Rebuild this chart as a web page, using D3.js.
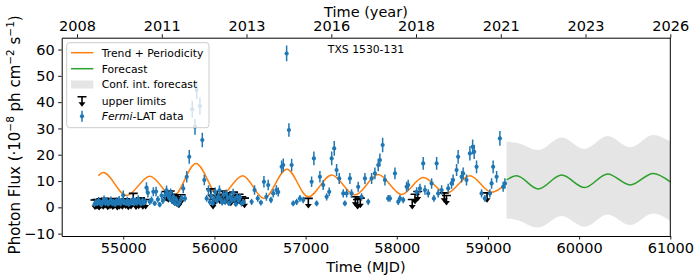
<!DOCTYPE html>
<html>
<head>
<meta charset="utf-8">
<script src="https://cdn.jsdelivr.net/npm/d3@7/dist/d3.min.js"></script>
<style>
body { margin: 0; background: #fff; }
svg text { font-family: "DejaVu Sans", sans-serif; fill: #000; }
</style>
</head>
<body>
<svg id="chart" width="699" height="278"></svg>
<script>

// Fermi-LAT detections (MJD, flux, 1 sigma error), flux in 1e-8 ph cm-2 s-1.

const detMjd = [
    54685,54700,54715,54730,54745,54760,54775,54790,54805,54820,54835,54850,54865,54880,54895,54910,54925,54940,54955,54970,
    54985,55000,55015,55030,55045,55060,55075,55090,55105,55120,55135,55150,55165,55180,55195,55210,55225,55240,
    55255,55270,55290,55310,55330,55345,55360,55380,55400,55420,55435,
    55460,55475,55490,55505,55520,55535,55550,55565,55580,55600,55620,55640,
    55658,55677,55696,55724,55757,55787,55805,55841,55867,55889,
    55915,55935,55950,55965,55980,55995,56010,56025,56040,56055,56070,56085,56100,56115,56130,56145,56160,56175,56190,56205,
    56220,56235,56250,56265,56280,56300,56320,
    56408,56440,56475,56510,56543,56570,56590,56620,56645,56680,56700,56737,56755,56792,56817,56847,56864,
    56902,56938,56974,57066,57091,57121,57157,57193,57231,57259,
    57286,57314,57340,57369,57413,57431,57450,57486,57504,57577,
    57614,57651,57687,57724,57760,57797,57815,57845,57870,57906,
    57925,57980,58016,58035,58071,58108,58125,58218,58254,58290,
    58309,58345,58382,58407,58437,58454,58492,58564,58601,58618,
    58656,58673,58711,58728,58765,58802,58832,58849,58875,58930,
    58966,59021,59040,59057,59095,59131,59167,59186,
];

const detFlux = [
    1.2,2.0,1.5,2.5,1.8,1.0,2.2,3.0,1.6,2.4,1.3,2.0,2.7,1.5,2.1,1.1,2.5,1.9,2.8,1.4,
    2.3,4.6,2.0,1.6,2.6,1.2,2.2,1.8,2.9,1.5,2.4,1.7,3.1,2.0,1.4,2.5,1.8,2.2,
    7.5,5.5,2.1,2.8,5.9,1.5,6.0,3.0,1.0,4.5,2.5,
    4.5,6.5,5.0,3.5,5.5,2.5,4.0,1.5,3.0,1.0,2.0,3.5,
    7.2,3.4,11.6,19.2,37.3,30.6,44.6,38.5,25.6,10.4,
    3.4,6.6,2.0,4.5,1.5,3.2,5.8,2.5,4.0,6.5,3.0,1.8,4.8,2.2,5.2,3.5,1.5,4.2,2.8,5.5,
    3.0,1.2,4.0,2.5,3.8,1.5,2.0,
    2.1,6.6,3.4,1.8,9.7,4.0,8.5,2.8,5.3,6.6,5.8,15.4,16.1,58.5,29.4,16.1,1.5,
    2.1,3.4,2.8,9.7,18.6,1.5,11.6,8.5,4.0,5.9,
    18.6,22.4,14.2,11.0,5.3,1.5,5.3,11.0,5.3,7.8,
    4.0,11.0,2.1,11.0,12.9,16.1,18.0,23.7,10.4,3.4,
    3.4,12.9,2.1,3.4,2.8,7.8,8.5,5.9,7.2,16.7,
    6.6,5.3,9.1,3.4,16.7,5.3,6.6,7.2,9.1,10.4,
    14.2,19.2,11.6,12.9,10.4,20.5,23.0,21.1,15.4,5.3,
    3.4,5.3,9.1,15.4,11.6,26.2,7.8,9.1,
];

const detErr = [
    1.1,1.3,1.0,1.4,1.2,1.0,1.3,1.5,1.1,1.3,1.0,1.2,1.4,1.1,1.2,1.0,1.3,1.2,1.5,1.1,
    1.3,1.8,1.2,1.1,1.4,1.0,1.2,1.1,1.5,1.0,1.3,1.1,1.5,1.2,1.0,1.3,1.1,1.2,
    2.0,1.8,1.2,1.3,1.7,1.0,1.8,1.3,1.0,1.5,1.2,
    1.5,1.8,1.6,1.3,1.7,1.2,1.4,1.0,1.2,1.0,1.1,1.3,
    1.8,1.3,2.2,2.6,3.2,3.0,3.4,3.3,2.8,2.0,
    1.3,1.8,1.1,1.5,1.0,1.3,1.7,1.2,1.4,1.8,1.2,1.1,1.5,1.1,1.6,1.3,1.0,1.4,1.2,1.6,
    1.2,1.0,1.4,1.2,1.3,1.0,1.1,
    1.2,1.8,1.3,1.1,2.2,1.5,2.0,1.2,1.6,1.8,1.7,2.4,2.5,3.0,2.6,2.4,1.1,
    1.2,1.3,1.2,2.0,2.6,1.1,2.2,1.9,1.4,1.6,
    2.6,2.8,2.3,2.1,1.6,1.1,1.6,2.1,1.6,1.9,
    1.4,2.1,1.2,2.1,2.2,2.4,2.5,2.8,2.1,1.3,
    1.3,2.2,1.2,1.3,1.2,1.9,2.0,1.7,1.8,2.4,
    1.8,1.6,2.0,1.3,2.4,1.6,1.8,1.8,2.0,2.1,
    2.3,2.6,2.2,2.2,2.1,2.7,2.8,2.7,2.4,1.6,
    1.3,1.6,2.0,2.4,2.2,2.8,1.9,2.0,
];

const binHalf = 15; // days

// Upper limits (MJD, flux).

const ulMjd = [
    54690,54710,54735,54755,54780,54800,54830,54855,54885,54905,54935,54960,54990,55025,55055,55085,55110,55140,55170,55190,55215,55245,
    55470,55495,55515,55540,55560,55585,55610,55635,
    55960,55985,56005,56030,56060,56090,56120,56150,56180,56210,56240,56270,56300,56330,
    57030,57545,57570,57600,58170,58200,58230,58520,58545,58990,
];

const ulFlux = [
    2.8,3.0,2.6,3.2,2.9,3.4,2.7,3.1,2.8,3.3,2.6,3.0,2.9,3.2,2.7,3.0,5.3,2.8,3.1,3.6,2.9,3.0,
    6.0,5.5,6.2,5.0,4.5,4.0,3.5,4.8,
    7.0,3.0,4.5,6.0,5.0,6.2,4.8,5.5,4.2,5.8,4.5,5.0,4.0,3.5,
    3.4,4.0,3.0,3.5,3.0,5.0,6.0,5.5,4.5,5.5,
];

// Trend + periodicity model (turning points).

const trendMjd  = [54726,54781,55036,55293,55545,55798,56055,56310,56543,56795,57029,57286,57541,57797,58053,58290,58546,58802,59040,59204];
const trendFlux = [12.0, 13.2, 4.5, 11.8, 4.0, 16.7, 4.0, 12.0, 3.4, 14.5, 4.0, 12.3, 4.7, 12.5, 4.9, 11.3, 5.3, 12.0, 5.7, 9.1];

// Forecast and its confidence interval.

const forecastMjd   = [59204,59314,59551,59808,60060,60312,60560,60812,61000];
const forecastFlux  = [10.4, 12.0, 7.0, 12.3, 7.5, 12.7, 8.5, 12.9, 9.7];
const forecastUpper = [24.9, 24.6, 21.8, 26.6, 22.2, 27.1, 22.8, 27.5, 24.9];
const forecastLower = [-4.2, -4.8, -7.7, -3.3, -7.4, -2.7, -6.7, -2.3, -5.1];

// Axis ticks.

const mjdTicks   = [55000, 56000, 57000, 58000, 59000, 60000, 61000];
const fluxTicks  = [-10, 0, 10, 20, 30, 40, 50, 60];
const yearTickMjd = [54493, 55423, 56352, 57282, 58211, 59141, 60070, 61000];
const yearLabels  = ["2008", "2011", "2013", "2016", "2018", "2021", "2023", "2026"];

const legendLabels = ["Trend + Periodicity", "Forecast", "Conf. int. forecast", "upper limits", "Fermi-LAT data"];

//----------------------------------------------------------------------------//

const W = 699, H = 278;
const margin = { T: 37.7, B: 42, L: 61.7, R: 28.7 };

const BLUE = "#1f77b4", ORANGE = "#ff7f0e", GREEN = "#2ca02c";
const FS = 14.5;

const svg = d3.select("#chart");

const x = d3.scaleLinear().domain([54325, 61000]).range([margin.L, W - margin.R]);
const y = d3.scaleLinear().domain([-10.9, 64.5]).range([H - margin.B, margin.T]);

svg.append("defs").append("clipPath").attr("id", "clip")
    .append("rect")
    .attr("x", margin.L).attr("y", margin.T)
    .attr("width", W - margin.L - margin.R)
    .attr("height", H - margin.T - margin.B);

const plot = svg.append("g").attr("clip-path", "url(#clip)");

// Confidence band.

const band = forecastMjd.map((m, i) => ({ m, lo: forecastLower[i], hi: forecastUpper[i] }));

plot.append("path")
    .datum(band)
    .attr("d", d3.area().curve(d3.curveMonotoneX)
        .x(d => x(d.m)).y0(d => y(d.lo)).y1(d => y(d.hi)))
    .attr("fill", "#d3d3d3")
    .attr("fill-opacity", 0.6);

// Model lines.

const line = d3.line().curve(d3.curveMonotoneX).x(d => x(d[0])).y(d => y(d[1]));

plot.append("path")
    .datum(trendMjd.map((m, i) => [m, trendFlux[i]]))
    .attr("d", line)
    .attr("fill", "none").attr("stroke", ORANGE).attr("stroke-width", 1.5);

plot.append("path")
    .datum(forecastMjd.map((m, i) => [m, forecastFlux[i]]))
    .attr("d", line)
    .attr("fill", "none").attr("stroke", GREEN).attr("stroke-width", 1.5);

// Upper limits: cap, stem, arrow head.

function ulPath(cx, cy) {
    return `M${cx - 4.5},${cy}H${cx + 4.5}M${cx},${cy}V${cy + 6.5}`;
}
function ulHead(cx, cy) {
    return `M${cx - 3.5},${cy + 5.5}L${cx + 3.5},${cy + 5.5}L${cx},${cy + 10}Z`;
}

const uls = plot.append("g")
    .selectAll("g")
    .data(ulMjd.map((m, i) => ({ m, f: ulFlux[i] })))
    .join("g");

uls.append("path")
    .attr("d", d => ulPath(x(d.m), y(d.f)))
    .attr("stroke", "#000").attr("stroke-width", 1.6).attr("fill", "none");
uls.append("path")
    .attr("d", d => ulHead(x(d.m), y(d.f)))
    .attr("fill", "#000");

// Detections with error bars.

const dets = plot.append("g")
    .selectAll("g")
    .data(detMjd.map((m, i) => ({ m, f: detFlux[i], e: detErr[i] })))
    .join("g");

dets.append("path")
    .attr("d", d => `M${x(d.m)},${y(d.f - d.e)}V${y(d.f + d.e)}M${x(d.m - binHalf)},${y(d.f)}H${x(d.m + binHalf)}`)
    .attr("stroke", BLUE).attr("stroke-width", 1.5).attr("fill", "none");
dets.append("circle")
    .attr("cx", d => x(d.m)).attr("cy", d => y(d.f)).attr("r", 2.1)
    .attr("fill", BLUE);

//----------------------------------------------------------------------------//
//                                    AXES                                    //
//----------------------------------------------------------------------------//

function styleAxis(g) {
    g.selectAll("path").attr("stroke", "#000").attr("stroke-width", 1);
    g.selectAll("line").attr("stroke", "#000").attr("stroke-width", 0.9);
    g.selectAll("text").attr("font-size", FS).attr("font-family", "DejaVu Sans");
}

svg.append("g")
    .attr("transform", `translate(0,${H - margin.B})`)
    .call(d3.axisBottom(x).tickValues(mjdTicks).tickFormat(d3.format("d")).tickSize(3.5).tickPadding(3.5).tickSizeOuter(0))
    .call(styleAxis);

svg.append("g")
    .attr("transform", `translate(0,${margin.T})`)
    .call(d3.axisTop(x).tickValues(yearTickMjd).tickFormat((d, i) => yearLabels[i]).tickSize(3.5).tickPadding(3.5).tickSizeOuter(0))
    .call(styleAxis);

svg.append("g")
    .attr("transform", `translate(${margin.L},0)`)
    .call(d3.axisLeft(y).tickValues(fluxTicks).tickFormat(d3.format("d")).tickSize(3.5).tickPadding(3.5).tickSizeOuter(0))
    .call(styleAxis);

svg.append("line")
    .attr("x1", W - margin.R).attr("x2", W - margin.R)
    .attr("y1", margin.T).attr("y2", H - margin.B)
    .attr("stroke", "#000");

// Axis labels.

const midX = (margin.L + W - margin.R) / 2;

svg.append("text").attr("x", midX).attr("y", 272).attr("text-anchor", "middle")
    .attr("font-size", FS).text("Time (MJD)");

svg.append("text").attr("x", midX).attr("y", 16.5).attr("text-anchor", "middle")
    .attr("font-size", FS).text("Time (year)");

const yl = svg.append("text")
    .attr("transform", `translate(20,${(margin.T + H - margin.B) / 2 - 2}) rotate(-90)`)
    .attr("text-anchor", "middle")
    .attr("font-size", 15);
yl.append("tspan").text("Photon Flux  (·10");
yl.append("tspan").attr("dy", -6).attr("font-size", 10.5).text("−8");
yl.append("tspan").attr("dy", 6).text(" ph cm");
yl.append("tspan").attr("dy", -6).attr("font-size", 10.5).text("−2");
yl.append("tspan").attr("dy", 6).text(" s");
yl.append("tspan").attr("dy", -6).attr("font-size", 10.5).text("−1");
yl.append("tspan").attr("dy", 6).text(")");

// Source name.

svg.append("text").attr("x", midX).attr("y", 53).attr("text-anchor", "middle")
    .attr("font-size", 10.8).text("TXS 1530-131");

//----------------------------------------------------------------------------//
//                                   LEGEND                                   //
//----------------------------------------------------------------------------//

const legend = svg.append("g");

legend.append("rect")
    .attr("x", 66.7).attr("y", 42.7).attr("width", 142.3).attr("height", 85).attr("rx", 3)
    .attr("fill", "#fff").attr("fill-opacity", 0.8)
    .attr("stroke", "#cccccc").attr("stroke-width", 1);

const rowY = [52.7, 68.7, 84.5, 100.7, 116.3];
const hx0 = 71, hx1 = 93.3, hc = 82;

legend.append("line").attr("x1", hx0).attr("x2", hx1).attr("y1", rowY[0]).attr("y2", rowY[0])
    .attr("stroke", ORANGE).attr("stroke-width", 1.5);
legend.append("line").attr("x1", hx0).attr("x2", hx1).attr("y1", rowY[1]).attr("y2", rowY[1])
    .attr("stroke", GREEN).attr("stroke-width", 1.5);
legend.append("rect").attr("x", hx0).attr("y", rowY[2] - 4).attr("width", hx1 - hx0).attr("height", 8)
    .attr("fill", "#d3d3d3").attr("fill-opacity", 0.6);
legend.append("path").attr("d", ulPath(hc, rowY[3] - 4))
    .attr("stroke", "#000").attr("stroke-width", 1.6).attr("fill", "none");
legend.append("path").attr("d", ulHead(hc, rowY[3] - 4)).attr("fill", "#000");
legend.append("path").attr("d", `M${hc},${rowY[4] - 5.5}V${rowY[4] + 5.5}M${hc - 1.5},${rowY[4]}H${hc + 1.5}`)
    .attr("stroke", BLUE).attr("stroke-width", 1.5);
legend.append("circle").attr("cx", hc).attr("cy", rowY[4]).attr("r", 2.1).attr("fill", BLUE);

legend.selectAll("text.lab")
    .data(legendLabels)
    .join("text")
        .attr("class", "lab")
        .attr("x", 101.7)
        .attr("y", (d, i) => rowY[i] + 3.9)
        .attr("font-size", 10.8)
        .each(function (d) {
            const t = d3.select(this);
            if (d.startsWith("Fermi")) {
                t.append("tspan").attr("font-style", "italic").text("Fermi");
                t.append("tspan").text(d.slice(5));
            } else {
                t.text(d);
            }
        });

</script>
</body>
</html>
